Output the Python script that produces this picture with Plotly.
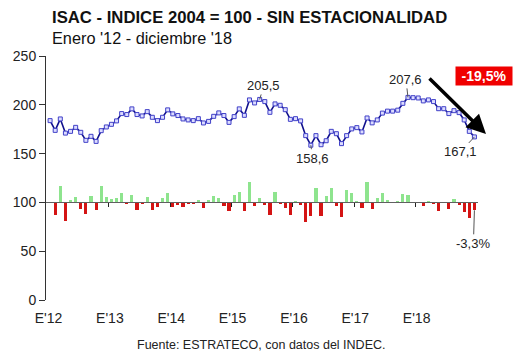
import plotly.graph_objects as go

# ISAC index (seasonally adjusted), Jan 2012 - Dec 2018
isac = [183.8, 173.8, 185.5, 171.0, 172.8, 176.9, 171.8, 163.6, 167.7, 162.5, 173.5, 177.3,
        180.0, 183.5, 191.0, 190.0, 195.8, 190.0, 188.6, 193.0, 187.2, 183.8, 187.2, 194.8,
        190.7, 189.0, 185.5, 184.5, 183.8, 185.8, 181.4, 183.0, 188.2, 191.7, 189.0, 182.0,
        187.9, 195.8, 189.2, 205.0, 201.9, 205.5, 203.3, 192.3, 200.9, 199.5, 195.0, 185.1,
        185.8, 183.5, 168.4, 158.6, 168.4, 159.1, 163.2, 172.8, 170.4, 160.2, 168.4, 175.3,
        176.6, 172.2, 186.5, 181.5, 184.5, 191.5, 193.5, 193.5, 194.5, 201.5, 207.6, 207.3,
        207.0, 204.0, 205.0, 203.3, 196.0, 196.0, 191.0, 194.0, 192.0, 184.5, 172.8, 167.1]

# monthly % change (bars, drawn from base 100)
mom = [None, -5.4, 6.7, -7.8, 1.1, 2.4, -2.9, -4.8, 2.5, -3.1, 6.8, 2.2,
       1.5, 1.9, 4.1, -0.5, 3.1, -3.0, -0.7, 2.3, -3.0, -1.8, 1.8, 4.1,
       -2.1, -0.9, -1.9, -0.5, -0.4, 1.1, -2.4, 0.9, 2.8, 1.9, -1.4, -3.7,
       3.2, 4.2, -3.4, 8.4, -1.5, 1.8, -1.1, -5.4, 4.5, -0.7, -2.3, -5.1,
       0.4, -1.2, -8.2, -5.8, 6.2, -5.5, 2.6, 5.9, -1.4, -6.0, 5.1, 4.1,
       0.7, -2.5, 8.3, -2.7, 1.7, 3.8, 1.0, 0.0, 0.5, 3.6, 3.0, -0.1,
       -0.1, -1.4, 0.5, -0.8, -3.6, 0.0, -2.6, 1.6, -1.0, -3.9, -6.3, -3.3]

year_labels = ["E'12", "E'13", "E'14", "E'15", "E'16", "E'17", "E'18"]
labeled_points = [41, 51, 70, 83]      # indices of labelled index values
label_offsets = [(4, -14), (2, 13), (-2, -18), (-14, 15)]
drop_text = "-19,5%"

n = len(isac)
xs = list(range(n))
K = 2.46  # index points per 1% of monthly change
base = 100

FONT = "Liberation Sans, Arial, sans-serif"

bar_y = [None if m is None else m * K for m in mom]
bar_colors = ["#d41414" if (m is not None and m < 0) else "#8ee48e" for m in mom]

fig = go.Figure()
fig.add_trace(go.Bar(x=xs, y=bar_y, base=base, marker=dict(color=bar_colors, line=dict(width=0)),
                     width=0.62, showlegend=False))
fig.add_trace(go.Scatter(x=xs, y=isac, mode="lines+markers",
                         line=dict(color="#10108c", width=1.6),
                         marker=dict(symbol="square", size=4, color="#dcdcff",
                                     line=dict(color="#4040c8", width=1)),
                         showlegend=False))
# invisible trace on overlay axis for baseline
fig.add_trace(go.Scatter(x=[xs[0]], y=[base], xaxis="x2", mode="markers",
                         marker=dict(opacity=0), showlegend=False, hoverinfo="skip"))

xr = [-0.8, 83.7]
fig.update_layout(
    width=530, height=354,
    margin=dict(l=46, r=52, t=56, b=54),
    paper_bgcolor="white", plot_bgcolor="white",
    font=dict(family=FONT, size=13, color="#222"),
    bargap=0,
    xaxis=dict(range=xr, showgrid=False, zeroline=False, showline=False,
               tickvals=[12 * i - 0.3 for i in range(len(year_labels))], ticktext=year_labels,
               ticks="outside", ticklen=5, tickcolor="rgba(0,0,0,0)",
               tickfont=dict(size=14, color="#222")),
    xaxis2=dict(range=xr, overlaying="x", anchor="free", position=base / 250, side="bottom",
                showgrid=False, zeroline=False, showline=True, linecolor="#606060", linewidth=1,
                tickvals=[12 * i - 0.5 for i in range(1, len(year_labels))],
                ticks="outside", ticklen=4, tickcolor="#222", showticklabels=False),
    yaxis=dict(range=[0, 250], dtick=50, showgrid=False, zeroline=False,
               showline=True, linecolor="#333", linewidth=1,
               ticks="outside", ticklen=6, tickcolor="#333",
               tickfont=dict(size=14, color="#222")),
)

ann = []
for idx, (ox, oy) in zip(labeled_points, label_offsets):
    ann.append(dict(x=idx, y=isac[idx], xref="x", yref="y",
                    text=f"{isac[idx]:.1f}".replace(".", ","),
                    showarrow=True, arrowhead=0, arrowcolor="#555", arrowwidth=1,
                    ax=ox, ay=oy, font=dict(size=13, color="#222")))
last = n - 1
ann.append(dict(x=last, y=base + mom[last] * K, xref="x", yref="y",
                text=f"{mom[last]:.1f}%".replace(".", ","),
                showarrow=True, arrowhead=0, arrowcolor="#555", arrowwidth=1,
                ax=-1, ay=33, font=dict(size=13, color="#222")))
# drop arrow
ann.append(dict(x=(486 - 46) / 432, y=(300 - 134) / 244, xref="paper", yref="paper",
                ax=-58, ay=-57, text="", showarrow=True, arrowhead=2, arrowsize=1.1,
                arrowwidth=3.5, arrowcolor="black"))
ann.append(dict(x=(484 - 46) / 432, y=(300 - 76) / 244, xref="paper", yref="paper",
                xanchor="center", yanchor="middle",
                text=f"<b>{drop_text}</b>", showarrow=False, bgcolor="#f00000",
                font=dict(size=14, color="white"), width=52, height=14, borderpad=2))
# titles
ann.append(dict(x=(50 - 46) / 432, y=(300 - 17) / 244, xref="paper", yref="paper",
                xanchor="left", yanchor="middle", showarrow=False,
                text="<b>ISAC - INDICE 2004 = 100 - SIN ESTACIONALIDAD</b>",
                font=dict(size=16.7, color="#111")))
ann.append(dict(x=(50 - 46) / 432, y=(300 - 38) / 244, xref="paper", yref="paper",
                xanchor="left", yanchor="middle", showarrow=False,
                text="Enero '12 - diciembre '18", font=dict(size=16.3, color="#111")))
ann.append(dict(x=(261 - 46) / 432, y=(300 - 345) / 244, xref="paper", yref="paper",
                xanchor="center", yanchor="middle", showarrow=False,
                text="Fuente: ESTRATECO, con datos del INDEC.", font=dict(size=12.5, color="#222")))
fig.update_layout(annotations=ann)

fig.write_html("out.html")
